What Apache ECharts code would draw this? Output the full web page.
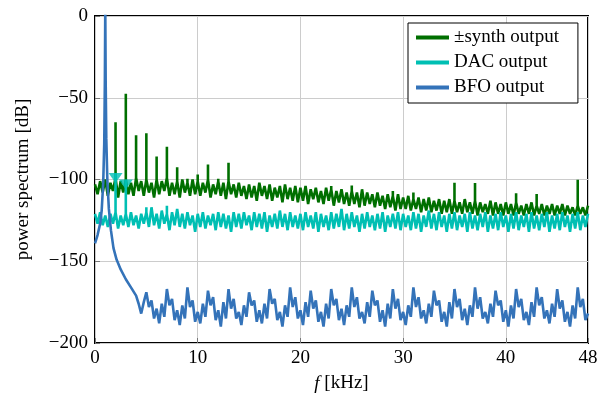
<!DOCTYPE html>
<html><head><meta charset="utf-8">
<script src="https://cdn.jsdelivr.net/npm/echarts@6/dist/echarts.min.js"></script>
<style>html,body{margin:0;padding:0;background:#fff}#c{width:600px;height:394px}</style>
</head><body><div id="c"></div>
<script>
// Frequency grid step (kHz) for the sampled spectra
const freqStep = 0.25;
const xTickValues = [0, 10, 20, 30, 40, 48];

// ±synth output noise floor (dB), 0..48 kHz every 0.25 kHz
const synthDb = [
-103,-109,-101,-108,-100,-110,-102,-107,-99,-111,-101,-108,-100,-109,-102,-110,-99,-107,-101,-110,
-100,-108,-102,-111,-100,-109,-101,-107,-99,-110,-102,-109,-101,-111,-100,-108,-102,-110,-100,-109,
-101,-110,-102,-108,-100,-111,-103,-109,-101,-110,-102,-112,-101,-109,-103,-111,-102,-110,-104,-112,
-103,-111,-104,-113,-102,-110,-104,-112,-103,-113,-105,-111,-104,-114,-103,-112,-105,-113,-104,-114,
-105,-113,-104,-115,-106,-112,-105,-114,-107,-115,-105,-113,-106,-116,-107,-114,-106,-115,-108,-116,
-107,-115,-108,-117,-106,-116,-108,-115,-109,-117,-108,-116,-110,-118,-109,-117,-110,-119,-109,-118,
-111,-118,-110,-119,-112,-118,-111,-120,-112,-119,-111,-120,-113,-119,-112,-121,-113,-120,-112,-121,
-113,-120,-114,-121,-112,-120,-114,-121,-113,-122,-114,-120,-115,-121,-113,-122,-114,-121,-115,-122,
-114,-121,-115,-122,-114,-121,-116,-122,-115,-121,-114,-122,-116,-121,-115,-122,-116,-121,-115,-122,
-116,-121,-115,-122,-116,-121,-117,-122,-116,-121,-117,-122,-116
];
// ±synth harmonic spikes [kHz, dB]
const synthSpikes = [
[2,-65],[3,-47.6],[4,-73],[5,-71.7],[6,-86],[7,-80],[8,-92.5],[9,-99.6],[10,-97],
[11,-90.8],[12,-99.6],[13,-89.8],[19,-106],[23,-104],[25,-103.7],[29,-107],[31,-108],
[35,-102],[37,-102.2],[41,-108.4],[43,-108.8],[47,-100.2]
];

// DAC output noise floor (dB), 0..48 kHz every 0.25 kHz
const dacDb = [
-121,-127,-120,-128,-122,-129,-121,-127,-120,-130,-122,-128,-121,-129,-120,-128,-122,-130,-121,-127,
-120,-129,-117,-128,-121,-130,-119,-127,-121,-131,-120,-128,-118,-129,-121,-130,-120,-128,-122,-132,
-121,-129,-120,-130,-122,-128,-121,-131,-120,-129,-121,-130,-122,-132,-120,-129,-121,-130,-120,-128,
-122,-131,-120,-129,-121,-130,-120,-132,-122,-129,-121,-130,-119,-129,-121,-131,-120,-129,-122,-130,
-121,-131,-120,-129,-122,-130,-120,-132,-121,-129,-122,-131,-120,-130,-121,-129,-118,-131,-121,-130,
-120,-129,-122,-132,-121,-130,-120,-129,-122,-131,-121,-130,-120,-132,-122,-129,-121,-130,-120,-131,
-121,-129,-122,-131,-120,-130,-121,-132,-122,-129,-119,-130,-121,-131,-120,-129,-122,-132,-121,-130,
-120,-131,-122,-129,-121,-132,-120,-130,-122,-131,-121,-129,-120,-132,-122,-130,-121,-131,-120,-129,
-122,-132,-121,-130,-120,-131,-122,-129,-121,-132,-120,-130,-122,-131,-121,-129,-120,-132,-122,-130,
-121,-131,-120,-129,-122,-132,-121,-130,-120,-131,-122,-129,-121
];
// DAC spikes [kHz, dB]
const dacSpikes = [[2,-96],[3,-100],[5,-117],[7,-116]];
// DAC spike markers (triangles) [kHz, dB]
const dacMarkers = [[2,-96],[3,-100]];

// BFO output: carrier peak [kHz, dB]
const bfoPeak = [
[0,-139],[0.25,-134],[0.5,-127],[0.65,-119],[0.8,-102],[0.9,-78],[0.96,-40],[1.0,5],
[1.04,-40],[1.1,-75],[1.2,-100],[1.35,-118],[1.55,-131],[1.8,-142],[2.1,-149],[2.5,-155],
[3.0,-161],[3.5,-166],[4.0,-171]
];
const bfoFloorStart = 4.25;
// BFO output floor (dB), 4.25..48 kHz every 0.25 kHz
const bfoFloorDb = [
-176,-182,-175,
-169,-178,-174,-185,-179,-188,-176,-184,
-167,-177,-173,-186,-180,-189,-177,-185,
-166,-178,-174,-187,-181,-188,-176,-184,
-168,-177,-172,-186,-180,-190,-175,-185,
-167,-179,-173,-185,-181,-189,-177,-184,
-169,-177,-174,-187,-180,-188,-176,-185,
-167,-176,-173,-186,-181,-190,-177,-184,
-166,-178,-172,-185,-180,-189,-175,-184,
-168,-179,-174,-187,-181,-190,-176,-185,
-167,-177,-173,-186,-179,-189,-177,-184,
-166,-178,-172,-185,-181,-188,-175,-184,
-168,-177,-174,-187,-180,-190,-176,-185,
-167,-179,-173,-186,-181,-189,-177,-184,
-166,-178,-172,-185,-180,-188,-176,-184,
-168,-177,-174,-187,-181,-190,-175,-185,
-167,-178,-173,-186,-179,-189,-177,-184,
-166,-179,-172,-185,-181,-188,-176,-184,
-168,-177,-174,-187,-180,-190,-177,-185,
-167,-178,-173,-186,-181,-189,-175,-184,
-166,-177,-172,-185,-180,-188,-176,-184,
-167,-179,-174,-187,-181,-190,-177,-185,
-166,-178,-173,-186,-182
];

const GREEN = '#006f00', CYAN = '#00bfb3', BLUE = '#3473b9';
const FONT = 'Liberation Serif';
const FS = 19;

function buildLine(db, spikes) {
  const m = new Map(spikes.map(s => [s[0], s[1]]));
  const out = [];
  db.forEach((v, i) => {
    const f = i * freqStep;
    out.push([f, v]);
    if (m.has(f)) { out.push([f, m.get(f)]); out.push([f, v]); }
  });
  return out;
}
const bfoData = bfoPeak.concat(bfoFloorDb.map((v, i) => [bfoFloorStart + i * freqStep, v]));

const chart = echarts.init(document.getElementById('c'), null, {renderer: 'canvas'});
const noLine = {show: false, onZero: false};
const tick = {show: true, inside: true, length: 5, lineStyle: {color: '#777', width: 1}};
chart.setOption({
  animation: false,
  textStyle: {fontFamily: FONT, color: '#000'},
  grid: {left: 95, right: 12, top: 16, bottom: 51, show: true, borderColor: '#000', borderWidth: 2,
         backgroundColor: 'transparent', containLabel: false, outerBoundsMode: 'none'},
  legend: {
    data: ['±synth output', 'DAC output', 'BFO output'],
    orient: 'vertical', left: 408, top: 23,
    backgroundColor: '#fff', borderColor: '#000', borderWidth: 1, borderRadius: 0,
    padding: [5, 19, 6, 8], itemGap: 6, itemWidth: 33, itemHeight: 4, icon: 'rect',
    textStyle: {fontFamily: FONT, fontSize: FS, color: '#000'}
  },
  xAxis: {
    type: 'value', min: 0, max: 48, interval: 10,
    name: '{i|f} [kHz]', nameLocation: 'middle', nameGap: 31,
    nameTextStyle: {fontFamily: FONT, fontSize: FS, color: '#000', rich: {i: {fontFamily: FONT, fontSize: FS, fontStyle: 'italic'}}},
    axisLine: noLine,
    axisTick: tick,
    axisLabel: {customValues: xTickValues, fontFamily: FONT, fontSize: FS, color: '#000', margin: 6},
    splitLine: {show: true, lineStyle: {color: '#cccccc', width: 1}}
  },
  yAxis: {
    type: 'value', min: -200, max: 0, interval: 50,
    name: 'power spectrum [dB]', nameLocation: 'middle', nameGap: 62,
    nameTextStyle: {fontFamily: FONT, fontSize: FS, color: '#000'},
    axisLine: noLine,
    axisTick: tick,
    axisLabel: {fontFamily: FONT, fontSize: FS, color: '#000', margin: 7,
      formatter: v => (v < 0 ? '\u2212' + (-v) : String(v))},
    splitLine: {show: true, lineStyle: {color: '#cccccc', width: 1}}
  },
  series: [
    {name: '±synth output', type: 'line', data: buildLine(synthDb, synthSpikes),
     showSymbol: false, symbol: 'none', lineStyle: {color: GREEN, width: 2.6}, itemStyle: {color: GREEN}},
    {name: 'DAC output', type: 'line', data: buildLine(dacDb, dacSpikes),
     showSymbol: false, symbol: 'none', lineStyle: {color: CYAN, width: 2.6}, itemStyle: {color: CYAN}},
    {name: 'DAC output', type: 'scatter', data: dacMarkers, symbol: 'triangle', symbolRotate: 180,
     symbolSize: [14, 10], symbolOffset: [0, 5], itemStyle: {color: CYAN}, z: 3, legendHoverLink: false},
    {name: 'BFO output', type: 'line', data: bfoData,
     showSymbol: false, symbol: 'none', lineStyle: {color: BLUE, width: 2.6}, itemStyle: {color: BLUE}, z: 4}
  ]
});
</script></body></html>
